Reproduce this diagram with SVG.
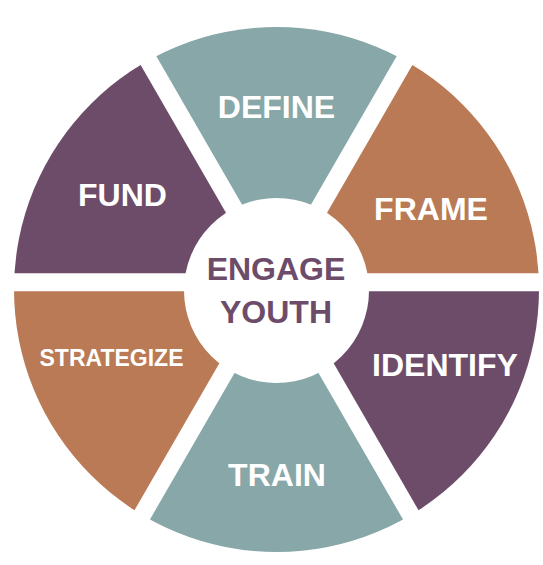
<svg xmlns="http://www.w3.org/2000/svg" width="543" height="565" viewBox="0 0 543 565">
  <defs>
    <clipPath id="outer">
      <circle cx="276.5" cy="289.5" r="262.5"/>
    </clipPath>
  </defs>
  <style>
    .teal{fill:#87A7A9}
    .purple{fill:#6D4C6A}
    .orange{fill:#B97A55}
    .lbl{font-family:"Liberation Sans",Arial,sans-serif;font-weight:bold;font-size:32px;fill:#FFFFFF;text-anchor:middle}
    .ctr{font-family:"Liberation Sans",Arial,sans-serif;font-weight:bold;font-size:32px;fill:#6D4C6A;text-anchor:middle}
  </style>
  <rect width="543" height="565" fill="#FFFFFF"/>
  <g clip-path="url(#outer)">
    <g id="define">
      <polygon class="teal" points="276.5,264.3 -23.5,-255.3 576.5,-255.3"/>
    </g>
    <g id="frame">
      <polygon class="orange" points="292.09,273.3 592.09,-246.3 892.09,273.3"/>
    </g>
    <g id="identify">
      <polygon class="purple" points="292.09,291.3 892.09,291.3 592.09,810.9"/>
    </g>
    <g id="train">
      <polygon class="teal" points="276.5,300.3 576.5,819.9 -23.5,819.9"/>
    </g>
    <g id="strategize">
      <polygon class="orange" points="260.91,291.3 -39.09,810.9 -339.09,291.3"/>
    </g>
    <g id="fund">
      <polygon class="purple" points="260.91,273.3 -339.09,273.3 -39.09,-246.3"/>
    </g>
  </g>
  <g id="labels">
    <text class="lbl" x="276.5" y="118">DEFINE</text>
    <text class="lbl" x="431" y="220">FRAME</text>
    <text class="lbl" x="445" y="376">IDENTIFY</text>
    <text class="lbl" x="277" y="486">TRAIN</text>
    <text class="lbl" x="111.5" y="366" style="font-size:23px">STRATEGIZE</text>
    <text class="lbl" x="122.5" y="206">FUND</text>
  </g>
  <g id="engage-youth">
    <circle cx="276.5" cy="290.5" r="92.5" fill="#FFFFFF"/>
    <text class="ctr" x="276" y="280">ENGAGE</text>
    <text class="ctr" x="276" y="323">YOUTH</text>
  </g>
</svg>
